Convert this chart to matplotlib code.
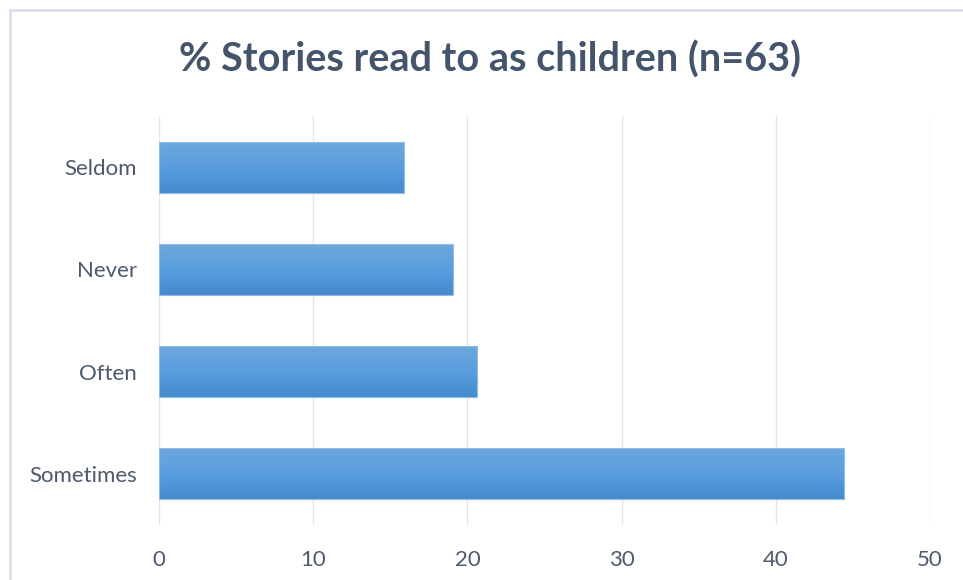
import numpy as np
import matplotlib
matplotlib.use('Agg')
import matplotlib.pyplot as plt
from matplotlib.patches import Rectangle
from matplotlib.colors import LinearSegmentedColormap

# データ（n=63）
categories = ['Sometimes', 'Often', 'Never', 'Seldom']
percent = [44.44, 20.63, 19.05, 15.87]
xticks = [0, 10, 20, 30, 40, 50]

title = '% Stories read to as children (n=63)'
text_color = '#44546a'
label_color = '#4d5a6c'
grid_color = '#e1e5ee'

plt.rcParams['font.family'] = ['Lato', 'DejaVu Sans']

fig = plt.figure(figsize=(9.63, 5.8), dpi=100)
fig.patch.set_facecolor('white')

# 外枠
fig.patches.append(Rectangle((10 / 963, -0.01), 1.0, 1 - 10 / 580 + 0.01,
                             transform=fig.transFigure, fill=False,
                             edgecolor='#d9dee8', linewidth=2))

ax = fig.add_axes([159 / 963, 1 - 525 / 580, (930 - 159) / 963, (525 - 116) / 580])

y = np.arange(len(categories))
bars = ax.barh(y, percent, height=0.5, color='none', edgecolor='#8fbbe6',
               linewidth=0.8, zorder=3)

# グラデーション
cmap = LinearSegmentedColormap.from_list('bar', ['#448bcb', '#5a9edf', '#6ea8dc'])
grad = np.linspace(0, 1, 256).reshape(-1, 1)
for b in bars:
    x0, y0 = b.get_x(), b.get_y()
    w, h = b.get_width(), b.get_height()
    im = ax.imshow(grad, cmap=cmap, aspect='auto', origin='lower',
                   extent=(x0, x0 + w, y0, y0 + h), zorder=2)
    im.set_clip_path(b)

ax.set_xlim(0, 50)
ax.set_ylim(-0.5, len(categories) - 0.5)
ax.set_xticks(xticks)
ax.set_yticks(y)
ax.set_yticklabels(categories)
ax.tick_params(axis='both', length=0, labelsize=16, labelcolor=label_color)
ax.tick_params(axis='x', pad=18)
ax.tick_params(axis='y', pad=16)
ax.grid(axis='x', color=grid_color, linewidth=1.0, zorder=0)
ax.set_axisbelow(True)
for s in ax.spines.values():
    s.set_visible(False)

fig.text(490 / 963, 1 - 60 / 580, title, ha='center', va='center',
         fontsize=28.5, fontweight='bold', color=text_color)

fig.savefig('out.png', dpi=100)
